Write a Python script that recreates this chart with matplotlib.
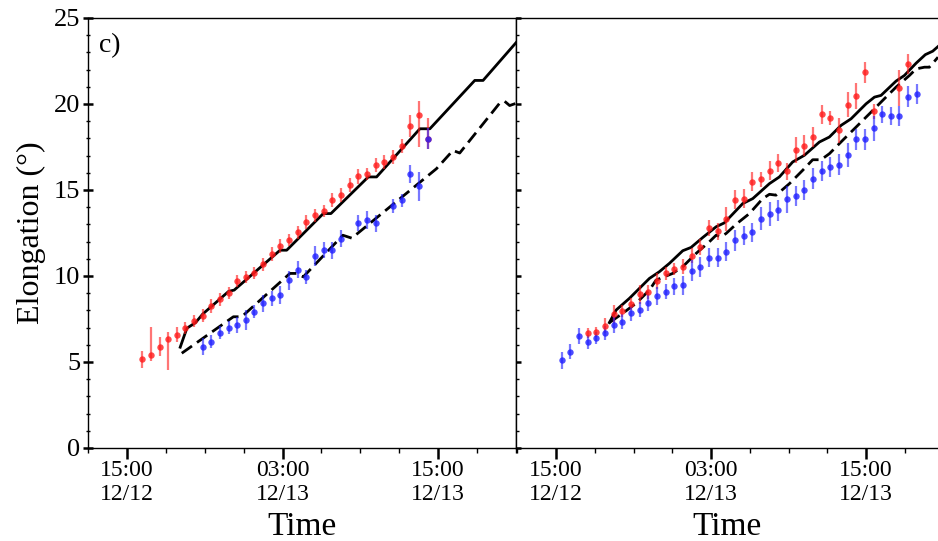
import numpy as np
import matplotlib
matplotlib.use('Agg')
import matplotlib.pyplot as plt
from matplotlib.ticker import FixedLocator, MultipleLocator

plt.rcParams['font.family'] = ['Liberation Serif', 'DejaVu Serif']

# x values: hours since 12/12 00:00
# ---- left panel (c) ----------------------------------------------------------
L_red_t = [16.15, 16.85, 17.52, 18.18, 18.85, 19.51, 20.16, 20.85, 21.52, 22.19,
           22.85, 23.50, 24.16, 24.83, 25.50, 26.17, 26.83, 27.50, 28.17, 28.83,
           29.50, 30.17, 30.84, 31.50, 32.17, 32.84, 33.51, 34.17, 34.84, 35.51,
           36.18, 36.84, 37.51, 38.18]
L_red_v = [5.16, 5.38, 5.90, 6.32, 6.59, 6.96, 7.39, 7.70, 8.26, 8.64,
           8.99, 9.69, 9.96, 10.19, 10.67, 11.27, 11.76, 12.08, 12.53, 13.13,
           13.52, 13.79, 14.40, 14.73, 15.29, 15.80, 15.91, 16.47, 16.65, 16.92,
           17.54, 18.70, 19.37, 17.98]
L_red_lo = [0.50, 0.35, 0.55, 1.78, 0.45, 0.35, 0.35, 0.40, 0.40, 0.40,
            0.35, 0.35, 0.35, 0.35, 0.40, 0.40, 0.40, 0.35, 0.40, 0.40,
            0.40, 0.35, 0.40, 0.40, 0.40, 0.45, 0.35, 0.40, 0.40, 0.40,
            0.40, 0.64, 1.88, 0.60]
L_red_hi = [0.50, 1.65, 0.55, 0.44, 0.45, 0.35, 0.35, 0.40, 0.40, 0.40,
            0.35, 0.35, 0.35, 0.35, 0.40, 0.40, 0.40, 0.35, 0.40, 0.40,
            0.40, 0.35, 0.40, 0.40, 0.40, 0.45, 0.35, 0.40, 0.40, 0.40,
            0.40, 0.64, 0.79, 1.20]

L_blue_t = [20.85, 21.52, 22.19, 22.85, 23.50, 24.16, 24.83, 25.50, 26.17, 26.83,
            27.50, 28.17, 28.83, 29.50, 30.17, 30.84, 31.50, 32.84, 33.51, 34.17,
            35.51, 36.18, 36.84, 37.51, 38.18]
L_blue_v = [5.88, 6.19, 6.71, 7.00, 7.15, 7.44, 7.93, 8.41, 8.70, 8.89,
            9.76, 10.36, 9.92, 11.16, 11.50, 11.50, 12.16, 13.07, 13.26, 13.07,
            14.08, 14.39, 15.93, 15.22, 17.98]
L_blue_err = [0.50, 0.40, 0.40, 0.40, 0.45, 0.60, 0.40, 0.50, 0.45, 0.50,
              0.55, 0.50, 0.40, 0.60, 0.45, 0.50, 0.50, 0.45, 0.50, 0.50,
              0.40, 0.35, 0.55, 0.85, 0.60]

L_solid_t = [19.11, 19.62, 20.29, 20.85, 22.85, 23.27, 26.81, 27.32, 30.14, 30.73,
             33.61, 34.25, 37.59, 38.36, 41.82, 42.46, 45.03]
L_solid_v = [5.86, 6.96, 7.29, 7.79, 9.11, 9.18, 11.50, 11.50, 13.63, 13.63,
             15.76, 15.76, 18.56, 18.56, 21.37, 21.37, 23.59]

L_dash_t = [19.23, 23.21, 23.85, 27.57, 28.09, 28.60, 31.65, 32.34, 38.87, 40.14,
            40.66, 43.74, 44.12, 44.51, 44.97]
L_dash_v = [5.51, 7.63, 7.63, 10.15, 10.15, 9.95, 12.37, 12.20, 16.24, 17.30,
            17.15, 20.05, 20.16, 19.91, 20.03]

# ---- right panel --------------------------------------------------------------
R_red_t = [17.45, 18.12, 18.79, 19.46, 20.14, 20.81, 21.48, 22.15, 22.82, 23.49,
           24.16, 24.83, 25.50, 26.17, 26.85, 27.52, 28.19, 28.86, 29.53, 30.20,
           30.87, 31.54, 32.21, 32.88, 33.55, 34.23, 34.90, 35.57, 36.24, 36.91,
           37.58, 38.25, 38.92, 39.59, 41.58, 42.25]
R_red_v = [6.67, 6.75, 7.12, 7.79, 7.99, 8.37, 8.95, 9.05, 9.71, 10.15,
           10.40, 10.54, 11.19, 11.70, 12.80, 12.61, 13.34, 14.44, 14.48, 15.47,
           15.62, 16.13, 16.57, 16.09, 17.34, 17.58, 18.08, 19.41, 19.18, 18.46,
           19.97, 20.46, 21.85, 19.57, 20.94, 22.33]
R_red_err = [0.30, 0.30, 0.45, 0.50, 0.35, 0.35, 0.55, 0.40, 0.45, 0.40,
             0.35, 0.45, 0.45, 0.45, 0.45, 0.50, 0.70, 0.55, 0.55, 0.55,
             0.45, 0.55, 0.55, 0.50, 0.75, 0.60, 0.60, 0.55, 0.40, 0.75,
             0.70, 0.75, 0.60, 0.45, 1.05, 0.60]

R_blue_t = [15.44, 16.11, 16.78, 17.45, 18.12, 18.79, 19.46, 20.14, 20.81, 21.48,
            22.15, 22.82, 23.49, 24.16, 24.83, 25.50, 26.17, 26.85, 27.52, 28.19,
            28.86, 29.53, 30.20, 30.87, 31.54, 32.21, 32.88, 33.55, 34.23, 34.90,
            35.57, 36.24, 36.91, 37.58, 38.25, 38.92, 39.59, 40.26, 40.94, 41.58,
            42.25, 42.92]
R_blue_v = [5.09, 5.61, 6.52, 6.15, 6.38, 6.69, 7.17, 7.35, 7.83, 8.04,
            8.45, 8.84, 9.09, 9.40, 9.47, 10.31, 10.52, 11.06, 11.06, 11.41,
            12.08, 12.34, 12.53, 13.34, 13.59, 13.82, 14.46, 14.66, 15.00, 15.66,
            16.11, 16.34, 16.47, 17.03, 17.94, 17.94, 18.58, 19.41, 19.30, 19.30,
            20.42, 20.59]
R_blue_err = [0.50, 0.45, 0.45, 0.40, 0.35, 0.40, 0.50, 0.45, 0.45, 0.45,
              0.50, 0.50, 0.45, 0.50, 0.55, 0.60, 0.60, 0.55, 0.55, 0.55,
              0.60, 0.55, 0.55, 0.65, 0.70, 0.60, 0.80, 0.60, 0.60, 0.60,
              0.60, 0.60, 0.60, 0.70, 0.60, 0.60, 0.75, 0.50, 0.50, 0.60,
              0.60, 0.60]

R_solid_t = [19.13, 19.65, 20.68, 22.23, 23.00, 23.77, 24.81, 25.45, 26.36, 27.39,
             28.03, 29.45, 30.23, 31.52, 32.29, 33.32, 34.23, 35.39, 36.16, 37.07,
             37.84, 39.00, 39.65, 40.16, 41.32, 41.97, 42.87, 43.59, 44.16, 44.57]
R_solid_v = [7.29, 8.02, 8.70, 9.86, 10.25, 10.73, 11.47, 11.66, 12.24, 12.86,
             13.09, 14.21, 14.50, 15.37, 15.76, 16.63, 17.02, 17.79, 18.08, 18.76,
             19.14, 20.01, 20.40, 20.50, 21.33, 21.66, 22.37, 22.87, 23.07, 23.34]

R_dash_t = [19.13, 20.16, 21.19, 22.23, 22.74, 23.26, 24.03, 24.81, 25.84, 26.87,
            27.39, 27.77, 28.16, 28.94, 29.97, 31.00, 31.52, 32.03, 33.07, 34.10,
            34.87, 35.52, 36.16, 37.19, 38.23, 39.26, 40.29, 41.32, 42.36, 42.87,
            43.52, 43.90, 44.57]
R_dash_v = [7.29, 7.83, 8.41, 9.18, 9.76, 9.92, 10.15, 10.54, 11.31, 11.99,
            12.37, 12.28, 12.47, 13.01, 13.63, 14.50, 14.75, 14.70, 15.37, 16.15,
            16.76, 16.76, 17.11, 17.89, 18.66, 19.43, 20.21, 20.98, 21.66, 22.04,
            22.14, 22.14, 22.72]

TICKS = [15, 27, 39]
TICK_LABELS = ['15:00\n12/12', '03:00\n12/13', '15:00\n12/13']

RED = (1.0, 0.1, 0.1)
BLUE = (0.12, 0.12, 1.0)


def points(ax, t, v, err, col):
    ax.errorbar(t, v, yerr=err, fmt='o', ms=4.6, mfc=col + (0.8,), mec='none',
                ecolor=col + (0.6,), elinewidth=1.6, capsize=0, zorder=3)


def style(ax, xlim):
    ax.set_xlim(*xlim)
    ax.set_ylim(0, 25)
    ax.xaxis.set_major_locator(FixedLocator(TICKS))
    ax.set_xticklabels(TICK_LABELS, fontsize=17, linespacing=1.15)
    ax.xaxis.set_minor_locator(MultipleLocator(3))
    ax.yaxis.set_major_locator(MultipleLocator(5))
    ax.yaxis.set_minor_locator(MultipleLocator(1))
    ax.tick_params(axis='x', which='major', direction='out', length=8, width=1.8,
                   pad=1, top=False)
    ax.tick_params(axis='x', which='minor', direction='out', length=3.5, width=1.0,
                   top=False)
    ax.set_xlabel('Time', fontsize=24, labelpad=5)
    for sp in ax.spines.values():
        sp.set_linewidth(1.0)


fig = plt.figure(figsize=(9.38, 5.41), dpi=100)
axL = fig.add_axes([88/938, 93/541, 428/938, 430/541])
axR = fig.add_axes([516/938, 93/541, 422/938, 430/541])

# left panel
axL.plot(L_solid_t, L_solid_v, color='black', lw=2.0, zorder=2)
axL.plot(L_dash_t, L_dash_v, color='black', lw=2.0, ls=(0, (4.5, 2.2)), zorder=2)
points(axL, L_red_t, L_red_v, [L_red_lo, L_red_hi], RED)
points(axL, L_blue_t, L_blue_v, L_blue_err, BLUE)
style(axL, (12.0, 45.0))
axL.tick_params(axis='y', which='major', direction='inout', length=7, width=1.8,
                labelsize=19, pad=2, right=False)
axL.tick_params(axis='y', which='minor', direction='inout', length=3, width=1.0,
                right=False)
axL.set_ylabel('Elongation (°)', fontsize=23, labelpad=6)
axL.text(0.025, 0.965, 'c)', transform=axL.transAxes, fontsize=20,
         va='top', ha='left')

# right panel
axR.plot(R_solid_t, R_solid_v, color='black', lw=2.0, zorder=2)
axR.plot(R_dash_t, R_dash_v, color='black', lw=2.0, ls=(0, (4.5, 2.2)), zorder=2)
points(axR, R_red_t, R_red_v, R_red_err, RED)
points(axR, R_blue_t, R_blue_v, R_blue_err, BLUE)
style(axR, (11.9, 44.57))
axR.tick_params(axis='y', which='major', direction='in', length=3.5, width=1.8,
                labelleft=False, right=False)
axR.tick_params(axis='y', which='minor', direction='in', length=2, width=1.0,
                right=False)
axR.spines['right'].set_visible(False)

fig.savefig('out.png', dpi=100)
